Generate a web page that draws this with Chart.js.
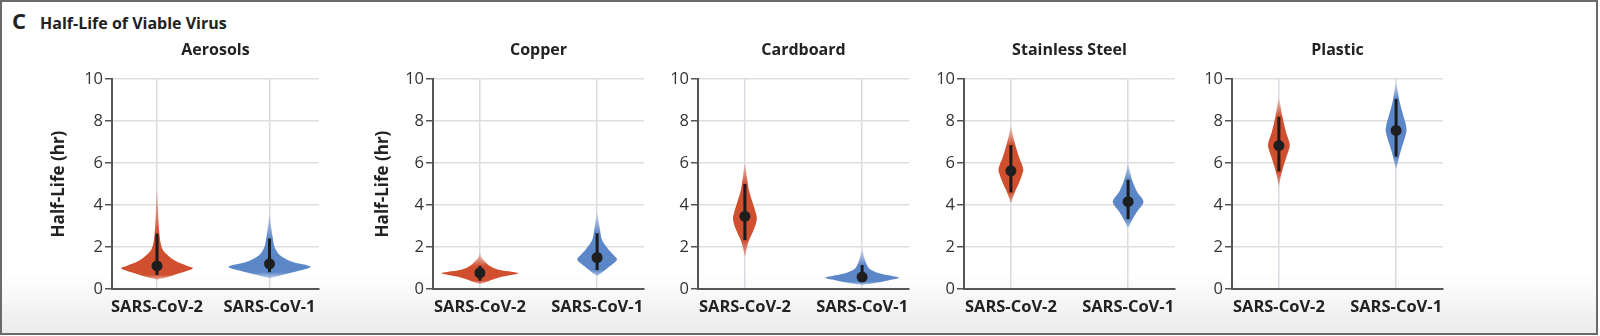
<!DOCTYPE html>
<html>
<head>
<meta charset="utf-8">
<script src="https://cdn.jsdelivr.net/npm/chart.js@4.4.1/dist/chart.umd.min.js"></script>
<style>
  body { margin: 0; width: 1600px; height: 336px; overflow: hidden; background: #fff; font-family: 'Open Sans', sans-serif; }
  #frame { position: absolute; left: 0; top: 0; width: 1594px; height: 331px; border: 2px solid #6a6a6a;
           background: linear-gradient(to bottom, #fff 0, #fff 82%, #ebebeb 100%); }
  #heading { position: absolute; left: 12px; top: 5px; color: #222; font-weight: 700; white-space: nowrap; }
  #heading .letter { font-size: 22px; margin-right: 14px; }
  #heading .text { font-size: 16px; }
  canvas { position: absolute; top: 0; }
</style>
</head>
<body>
<div id="frame"></div>
<div id="heading"><span class="letter">C</span><span class="text">Half-Life of Viable Virus</span></div>
<div id="panels"></div>
<script>
const panelTitles = ['Aerosols', 'Copper', 'Cardboard', 'Stainless Steel', 'Plastic'];
const virusLabels = ['SARS-CoV-2', 'SARS-CoV-1'];
const yTickValues = [0, 2, 4, 6, 8, 10];

// per panel: [SARS-CoV-2, SARS-CoV-1], half-life in hours
const medianHalfLife = [[1.1, 1.2], [0.77, 1.5], [3.46, 0.57], [5.63, 4.16], [6.83, 7.55]];
const intervalLow = [[0.67, 0.8], [0.4, 0.9], [2.33, 0.35], [4.6, 3.33], [5.6, 6.3]];
const intervalHigh = [[2.64, 2.4], [1.1, 2.65], [5.0, 1.14], [6.85, 5.2], [8.2, 9.05]];

// violin outlines: half-life levels and posterior density (as half-width of a category step)
const aerosolsLevels = [[0.45, 0.55, 0.75, 0.9, 1.0, 1.1, 1.38, 1.78, 2.1, 2.6, 3.2, 4.0, 4.8],
                        [0.52, 0.6, 0.78, 0.95, 1.05, 1.15, 1.3, 1.62, 2.0, 2.5, 3.0, 3.6]];
const aerosolsDensity = [[0, .08, .2, .29, .32, .27, .15, .062, .036, .022, .014, .008, 0],
                         [0, .062, .2, .32, .365, .32, .2, .09, .045, .027, .013, 0]];
const copperLevels = [[0.24, 0.35, 0.56, 0.68, 0.75, 0.82, 0.9, 1.05, 1.22, 1.48, 1.7],
                      [0.63, 0.71, 0.98, 1.2, 1.41, 1.6, 1.86, 2.33, 2.97, 3.6]];
const copperDensity = [[0, .06, .17, .28, .33, .27, .17, .1, .06, .017, 0],
                       [0, .025, .085, .135, .17, .145, .1, .042, .021, 0]];
const cardboardLevels = [[1.54, 1.86, 2.25, 2.73, 3.1, 3.37, 3.7, 4.08, 4.71, 5.35, 5.98],
                         [0.19, 0.32, 0.45, 0.54, 0.62, 0.75, 0.98, 1.38, 1.86]];
const cardboardDensity = [[0, .013, .03, .068, .093, .102, .089, .068, .034, .017, 0],
                          [0, .145, .255, .315, .255, .145, .06, .025, 0]];
const steelLevels = [[4.08, 4.56, 5.03, 5.4, 5.67, 5.95, 6.3, 6.94, 7.41, 7.73],
                     [2.89, 3.29, 3.68, 3.95, 4.16, 4.38, 4.63, 5.19, 5.67, 5.95]];
const steelDensity = [[0, .03, .068, .093, .106, .093, .068, .034, .014, 0],
                      [0, .034, .076, .114, .131, .11, .076, .034, .013, 0]];
const plasticLevels = [[4.87, 5.27, 5.67, 6.22, 6.55, 6.83, 7.15, 7.49, 8.2, 8.76, 9.08],
                       [5.7, 5.98, 6.38, 6.94, 7.3, 7.57, 7.9, 8.29, 8.92, 9.48, 9.8]];
const plasticDensity = [[0, .013, .03, .06, .08, .093, .08, .06, .03, .013, 0],
                        [0, .013, .03, .06, .08, .089, .08, .06, .03, .013, 0]];

const violinLevels = [aerosolsLevels, copperLevels, cardboardLevels, steelLevels, plasticLevels];
const violinDensity = [aerosolsDensity, copperDensity, cardboardDensity, steelDensity, plasticDensity];

const virusColors = [[207, 79, 47], [91, 134, 200]];

// where each panel's plot area sits on the page
const panelBoxes = [
  {left: 112, right: 319, axisWidth: 72, xMax: 1.44, yTitle: true},
  {left: 433, right: 644, axisWidth: 69, xMax: 1.4, yTitle: true},
  {left: 698, right: 909, axisWidth: 40, xMax: 1.4, yTitle: false},
  {left: 964, right: 1175, axisWidth: 40, xMax: 1.4, yTitle: false},
  {left: 1232, right: 1443, axisWidth: 40, xMax: 1.4, yTitle: false}
];

Chart.defaults.font.family = "'Open Sans', sans-serif";
Chart.defaults.color = '#333';

function rgba(c, a) {
  return 'rgba(' + c[0] + ',' + c[1] + ',' + c[2] + ',' + a + ')';
}

// fill each violin outline, fading the tails outside the interval
const violinFill = {
  id: 'violinFill',
  beforeDatasetDraw(chart, args) {
    const ds = chart.data.datasets[args.index];
    if (!ds.violin) return;
    const ctx = chart.ctx;
    const yScale = chart.scales.y;
    const line = args.meta.dataset;
    line.updateControlPoints(chart.chartArea, 'x');
    const v = ds.violin;
    const top = yScale.getPixelForValue(v.top);
    const bottom = yScale.getPixelForValue(v.bottom);
    const frac = (p) => Math.min(1, Math.max(0, (p - top) / (bottom - top)));
    const grad = ctx.createLinearGradient(0, top, 0, bottom);
    grad.addColorStop(0, rgba(v.color, 0.15));
    grad.addColorStop(frac(yScale.getPixelForValue(v.hi)), rgba(v.color, 1));
    grad.addColorStop(frac(yScale.getPixelForValue(v.lo)), rgba(v.color, 1));
    grad.addColorStop(1, rgba(v.color, 0.4));
    ctx.save();
    ctx.beginPath();
    line.path(ctx);
    ctx.closePath();
    ctx.fillStyle = grad;
    ctx.fill();
    ctx.restore();
    return false;
  }
};

const panelTitle = {
  id: 'panelTitle',
  afterDraw(chart, args, opts) {
    const {ctx, chartArea} = chart;
    ctx.save();
    ctx.font = "700 16px 'Open Sans', sans-serif";
    ctx.fillStyle = '#222';
    ctx.textAlign = 'center';
    ctx.textBaseline = 'middle';
    ctx.fillText(opts.text, (chartArea.left + chartArea.right) / 2, chartArea.top - 29);
    ctx.restore();
  }
};

const holder = document.getElementById('panels');

panelTitles.forEach(function(title, p) {
  const box = panelBoxes[p];
  const padRight = 12;
  const canvasLeft = box.left - box.axisWidth;
  const canvas = document.createElement('canvas');
  canvas.width = box.right + padRight - canvasLeft;
  canvas.height = 336;
  canvas.style.left = canvasLeft + 'px';
  holder.appendChild(canvas);

  const datasets = [];
  virusLabels.forEach(function(name, k) {
    datasets.push({
      label: name + ' mean',
      data: [{x: k, y: medianHalfLife[p][k]}],
      pointRadius: 5.5,
      pointBackgroundColor: '#1e1e1e',
      pointBorderWidth: 0,
      order: 0
    });
    datasets.push({
      label: name + ' interval',
      data: [{x: k, y: intervalLow[p][k]}, {x: k, y: intervalHigh[p][k]}],
      showLine: true,
      borderColor: '#1b1b1b',
      borderWidth: 3,
      borderCapStyle: 'butt',
      pointRadius: 0,
      order: 1
    });
    const levels = violinLevels[p][k];
    const dens = violinDensity[p][k];
    const outline = [];
    for (let i = 0; i < levels.length; i++) outline.push({x: k + dens[i], y: levels[i]});
    for (let i = levels.length - 2; i >= 0; i--) outline.push({x: k - dens[i], y: levels[i]});
    datasets.push({
      label: name,
      data: outline,
      showLine: true,
      tension: 0.3,
      borderWidth: 0,
      pointRadius: 0,
      order: 2,
      violin: {
        color: virusColors[k],
        top: levels[levels.length - 1],
        bottom: levels[0],
        hi: intervalHigh[p][k],
        lo: intervalLow[p][k]
      }
    });
  });

  new Chart(canvas.getContext('2d'), {
    type: 'scatter',
    data: {datasets: datasets},
    plugins: [violinFill, panelTitle],
    options: {
      responsive: false,
      animation: false,
      events: [],
      layout: {padding: {top: 79, right: padRight, bottom: 0, left: 0}},
      plugins: {
        legend: {display: false},
        tooltip: {enabled: false},
        panelTitle: {text: title}
      },
      scales: {
        x: {
          type: 'linear',
          min: -0.4,
          max: box.xMax,
          afterBuildTicks: function(scale) {
            scale.ticks = virusLabels.map(function(l, i) { return {value: i}; });
          },
          afterFit: function(scale) { scale.height = 47; },
          grid: {color: '#d9dae3', lineWidth: 1.5, drawTicks: false},
          border: {color: '#555', width: 2},
          ticks: {
            autoSkip: false,
            maxRotation: 0,
            padding: 8,
            color: '#222',
            font: {size: 16.5, weight: '700'},
            callback: function(value) { return virusLabels[value]; }
          }
        },
        y: {
          min: 0,
          max: 10,
          afterBuildTicks: function(scale) {
            scale.ticks = yTickValues.map(function(v) { return {value: v}; });
          },
          afterFit: function(scale) { scale.width = box.axisWidth; },
          grid: {color: '#dedede', lineWidth: 1.5, tickColor: '#555', tickLength: 7},
          border: {color: '#555', width: 2},
          ticks: {padding: 2, color: '#333', font: {size: 16.5}},
          title: {
            display: box.yTitle,
            text: 'Half-Life (hr)',
            color: '#222',
            font: {size: 17, weight: 'bold'},
            padding: {top: 9, bottom: 0}
          }
        }
      }
    }
  });
});
</script>
</body>
</html>
